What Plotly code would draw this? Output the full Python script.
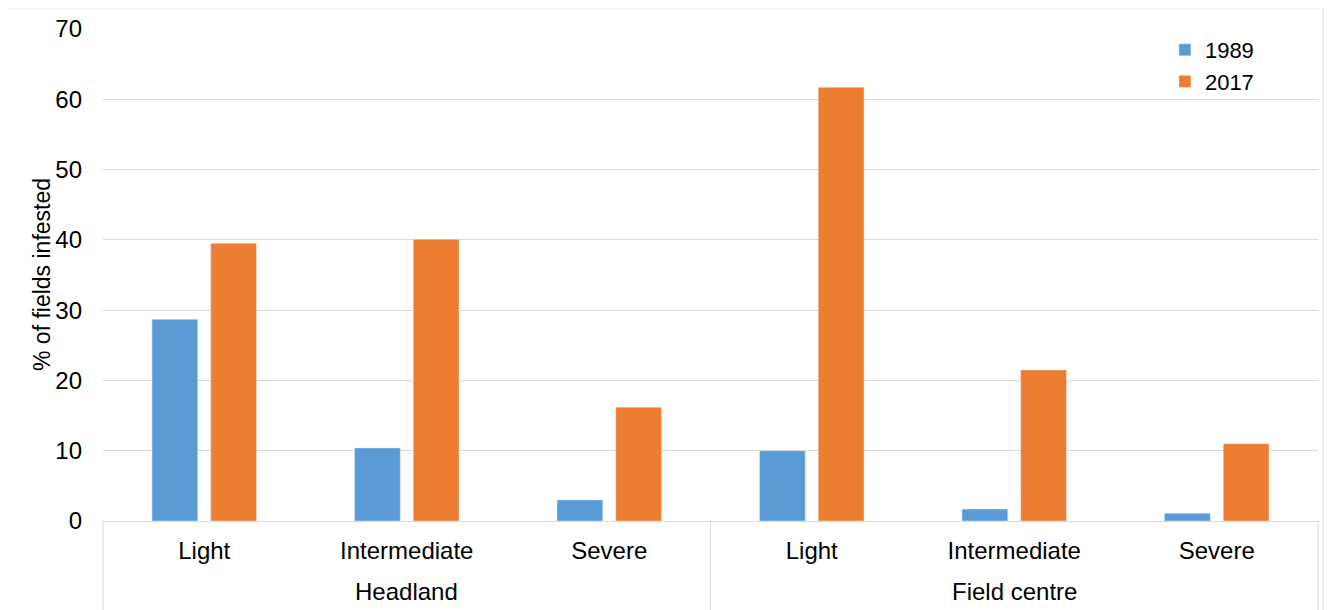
import plotly.graph_objects as go

groups = ["Headland", "Headland", "Headland", "Field centre", "Field centre", "Field centre"]
levels = ["Light", "Intermediate", "Severe", "Light", "Intermediate", "Severe"]
group_names = ["Headland", "Field centre"]
vals_1989 = [28.7, 10.4, 3.0, 10.0, 1.7, 1.1]
vals_2017 = [39.5, 40.1, 16.2, 61.7, 21.5, 11.0]
y_ticks = [0, 10, 20, 30, 40, 50, 60, 70]
y_title = "% of fields infested"

FONT = "Liberation Sans, Arial, sans-serif"
GRID = "#D9D9D9"

x_keys = [g + " | " + l for g, l in zip(groups, levels)]

fig = go.Figure()
fig.add_trace(go.Bar(name="1989", x=x_keys, y=vals_1989, marker_color="#5B9BD5"))
fig.add_trace(go.Bar(name="2017", x=x_keys, y=vals_2017, marker_color="#ED7D31"))

fig.update_layout(
    width=1327, height=602,
    margin=dict(l=95, r=17, t=21, b=89, autoexpand=False),
    paper_bgcolor="white", plot_bgcolor="white",
    barmode="group", bargap=0.42, bargroupgap=0.22,
    font=dict(family=FONT, color="#000000", size=24),
    legend=dict(x=0.874, y=1.0, xanchor="left", yanchor="top",
                font=dict(size=22), bgcolor="rgba(0,0,0,0)",
                itemwidth=30, tracegroupgap=0),
    showlegend=True,
)
fig.update_yaxes(
    range=[0, 70], tickvals=y_ticks, showgrid=True, gridcolor=GRID, gridwidth=1,
    zeroline=False, showline=False, ticks="", tickfont=dict(size=24),
    ticklabelstandoff=20, automargin=False,
)
fig.update_xaxes(
    type="category", tickvals=x_keys, ticktext=levels,
    showline=True, linecolor=GRID, linewidth=1, showgrid=False,
    ticks="", tickfont=dict(size=24), automargin=False, ticklabelstandoff=8,
)
fig.add_annotation(text=y_title, xref="paper", yref="paper", x=-0.0502, y=0.5,
                   xanchor="center", yanchor="middle", textangle=-90,
                   showarrow=False, font=dict(size=23))
# group labels under the category labels, centred on each group of three
n_per_group = len(levels) // len(group_names)
for gi, gname in enumerate(group_names):
    centre = gi * n_per_group + (n_per_group - 1) / 2
    fig.add_annotation(text=gname, xref="x", yref="paper", x=centre, y=-0.144,
                       xanchor="center", yanchor="middle", showarrow=False,
                       font=dict(size=24))
# group dividers
for xp in (0.0, 0.5, 1.0):
    fig.add_shape(type="line", xref="paper", yref="paper", x0=xp, x1=xp, y0=0, y1=-0.2,
                  line=dict(color=GRID, width=1))
fig.add_shape(type="rect", xref="paper", yref="paper",
              x0=-0.079, x1=1.004, y0=-0.3, y1=1.043,
              line=dict(color=GRID, width=1), fillcolor="rgba(0,0,0,0)", layer="below")

fig.write_html("out.html")
